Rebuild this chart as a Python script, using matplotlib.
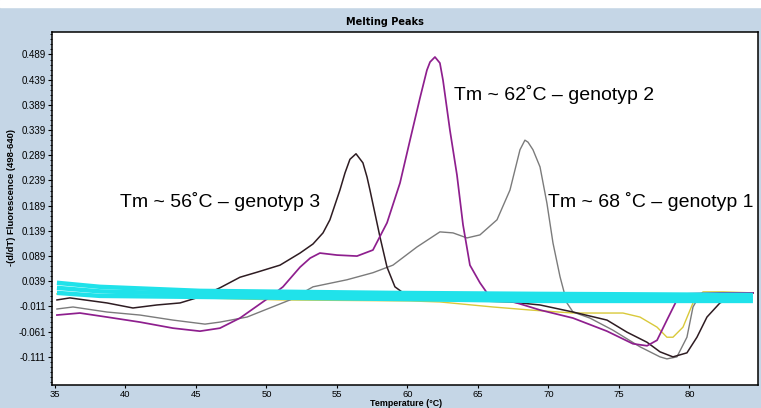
import matplotlib.pyplot as plt
from matplotlib.ticker import MultipleLocator
from matplotlib.patches import Rectangle

# 곡선 데이터 (온도, -dF/dT) - 그림에서 읽은 값
t_black = [35.14, 36.06, 38.69, 40.53, 42.23, 43.87, 45.28, 46.70, 48.12, 49.33, 50.96, 52.38, 53.30, 54.01,
           54.50, 55.21, 55.57, 55.92, 56.35, 56.84, 57.13, 57.34, 58.05, 58.55, 59.11, 59.60, 60.18, 62.30,
           65.14, 67.27, 69.40, 71.74, 74.15, 75.57, 76.99, 77.91, 78.83, 79.82, 80.53, 81.24, 82.16, 83.58, 84.50]
v_black = [0.002, 0.006, -0.004, -0.014, -0.008, -0.004, 0.008, 0.026, 0.047, 0.057, 0.071, 0.095, 0.113, 0.135,
           0.161, 0.220, 0.254, 0.281, 0.292, 0.274, 0.246, 0.220, 0.127, 0.067, 0.028, 0.018, 0.016, 0.003,
           0.000, -0.002, -0.008, -0.022, -0.038, -0.062, -0.082, -0.101, -0.111, -0.103, -0.072, -0.032, -0.004,
           0.014, 0.016]

t_purple = [35.14, 36.77, 38.69, 41.03, 43.37, 45.28, 46.70, 48.12, 50.25, 51.17, 52.38, 53.10, 53.79, 55.00,
            56.42, 57.55, 58.55, 59.47, 60.18, 60.89, 61.38, 61.60, 61.95, 62.30, 62.52, 63.01, 63.51, 63.94,
            64.43, 65.14, 65.64, 67.06, 69.40, 71.74, 74.15, 75.99, 76.99, 77.70, 78.40, 79.11, 79.82, 82.16, 84.50]
v_purple = [-0.028, -0.024, -0.032, -0.042, -0.054, -0.060, -0.054, -0.034, 0.008, 0.028, 0.067, 0.085, 0.095,
            0.091, 0.089, 0.101, 0.155, 0.234, 0.319, 0.403, 0.458, 0.474, 0.484, 0.472, 0.438, 0.339, 0.250,
            0.151, 0.071, 0.036, 0.016, 0.002, -0.018, -0.034, -0.060, -0.085, -0.089, -0.078, -0.038, 0.002,
            0.014, 0.016, 0.016]

t_gray = [35.14, 36.28, 38.69, 41.03, 43.37, 45.64, 46.70, 48.62, 51.67, 53.30, 55.71, 57.55, 58.97,
          60.67, 62.30, 63.23, 64.22, 65.14, 66.35, 67.27, 67.98, 68.33, 68.55, 68.90, 69.40, 69.89, 70.32,
          70.82, 71.31, 71.74, 72.94, 74.57, 76.49, 77.91, 78.40, 79.11, 79.82, 80.25, 80.74, 82.16, 84.50]
v_gray = [-0.016, -0.012, -0.022, -0.028, -0.038, -0.046, -0.042, -0.032, 0.002, 0.028, 0.042, 0.056, 0.071,
          0.107, 0.137, 0.135, 0.125, 0.131, 0.161, 0.220, 0.300, 0.319, 0.315, 0.300, 0.266, 0.194, 0.115,
          0.048, -0.004, -0.022, -0.034, -0.058, -0.091, -0.111, -0.115, -0.111, -0.072, -0.012, 0.012, 0.014,
          0.016]

t_yellow = [35.14, 39.61, 45.28, 50.96, 60.18, 62.30, 66.06, 68.69, 71.74, 75.28, 76.49, 77.70, 78.40,
            78.83, 79.54, 80.25, 80.96, 82.38, 84.50]
v_yellow = [0.014, 0.010, 0.006, 0.002, 0.000, -0.002, -0.012, -0.018, -0.024, -0.024, -0.032, -0.052, -0.072,
            -0.072, -0.052, -0.004, 0.018, 0.018, 0.016]

# 시안색 (음성 대조군 여러 개가 겹친 띠)
t_cyan = [35.14, 38.19, 45.28, 58.76, 69.40, 84.50]
v_cyan_top = [0.036, 0.028, 0.020, 0.016, 0.014, 0.012]
v_cyan_mid = [0.026, 0.019, 0.014, 0.010, 0.007, 0.006]
v_cyan_bot = [0.016, 0.010, 0.008, 0.004, 0.000, 0.000]

yticks = [-0.111, -0.061, -0.011, 0.039, 0.089, 0.139, 0.189, 0.239, 0.289, 0.339, 0.389, 0.439, 0.489]
xticks = [35, 40, 45, 50, 55, 60, 65, 70, 75, 80]

bg = "#c5d6e6"
fig = plt.figure(figsize=(7.61, 4.08), dpi=100, facecolor=bg)
fig.patches.append(Rectangle((0, 401 / 408), 1, 7 / 408, transform=fig.transFigure, color="white", zorder=0))

ax = fig.add_axes([52 / 761, 1 - 385 / 408, 706 / 761, 353 / 408])
ax.set_facecolor("white")

ax.plot(t_yellow, v_yellow, color="#d9c93a", lw=1.0, zorder=2)
ax.plot(t_gray, v_gray, color="#7b7b7b", lw=1.0, zorder=3)
ax.plot(t_black, v_black, color="#2e1c22", lw=1.1, zorder=3)
ax.plot(t_purple, v_purple, color="#8e1f8e", lw=1.25, zorder=3)
for v in (v_cyan_top, v_cyan_mid, v_cyan_bot):
    ax.plot(t_cyan, v, color="#20e2ea", lw=3.2, zorder=4, solid_capstyle="butt")

ax.set_xlim(34.79, 84.86)
ax.set_ylim(-0.1668, 0.5336)
ax.set_xticks(xticks)
ax.set_yticks(yticks)
ax.set_yticklabels(["%.3f" % y for y in yticks])
ax.yaxis.set_minor_locator(MultipleLocator(0.01, offset=0.009))
ax.tick_params(which="major", length=3, width=0.8, labelsize=7, pad=1.5)
ax.tick_params(axis="x", which="major", length=2.5, labelsize=6.8, pad=0.8)
ax.tick_params(which="minor", axis="y", length=1.8, width=0.6)
for lab in ax.get_xticklabels() + ax.get_yticklabels():
    lab.set_family(["Liberation Sans Narrow", "Liberation Sans"])
for s in ax.spines.values():
    s.set_linewidth(1.1)
    s.set_color("black")

# 주석
txt = dict(fontsize=14, family="Liberation Sans", ha="left", va="baseline", zorder=6)
ax.text(39.61, 0.1864, "Tm ~ 56˚C – genotyp 3", **txt)
ax.text(63.30, 0.3987, "Tm ~ 62˚C – genotyp 2", **txt)
ax.text(69.96, 0.1864, "Tm ~ 68 ˚C – genotyp 1", **txt)

fig.text(385 / 761, 1 - 22 / 408, "Melting Peaks", fontsize=7, fontweight="bold",
         family="DejaVu Sans", ha="center", va="center")
fig.text(12 / 761, 1 - 197 / 408, "-(d/dT) Fluorescence (498-640)", rotation=90, fontsize=6.8,
         fontweight="bold", family=["Liberation Sans Narrow", "Liberation Sans"], ha="center", va="center")
fig.text(406 / 761, 1 - 403.6 / 408, "Temperature (°C)", fontsize=6.4, fontweight="bold",
         family=["Liberation Sans Narrow", "Liberation Sans"], ha="center", va="center")

fig.savefig("out.png", dpi=100, facecolor=bg)
